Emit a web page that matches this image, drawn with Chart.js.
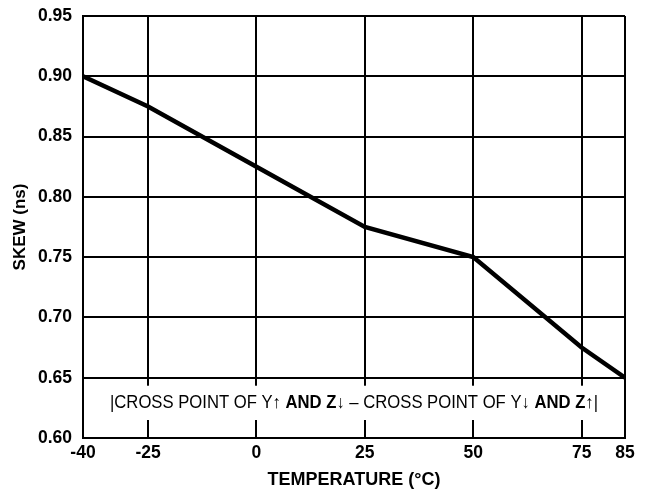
<!DOCTYPE html>
<html>
<head>
<meta charset="utf-8">
<script src="https://cdn.jsdelivr.net/npm/chart.js@4/dist/chart.umd.min.js"></script>
<style>
html,body{margin:0;padding:0;background:#fff;}
#wrap{width:652px;height:491px;}
</style>
</head>
<body>
<div id="wrap"><canvas id="c" width="652" height="491"></canvas></div>
<script>
const temperatures = [-40, -25, 0, 25, 50, 75, 85];
const skewValues = [0.90, 0.875, 0.825, 0.775, 0.75, 0.675, 0.65];
const xTickLabels = [-40, -25, 0, 25, 50, 75, 85];
const yTickLabels = [0.60, 0.65, 0.70, 0.75, 0.80, 0.85, 0.90, 0.95];
const annotationParts = [
  ["|CROSS POINT OF Y\u2191 ", false],
  ["AND Z\u2193", true],
  [" \u2013 CROSS POINT OF Y\u2193 ", false],
  ["AND Z\u2191", true],
  ["|", false]
];

const annotationPlugin = {
  id: 'annot',
  beforeDatasetsDraw(chart) {
    const {ctx, chartArea, scales} = chart;
    const top = scales.y.getPixelForValue(0.65) + 8;
    const bottom = scales.y.getPixelForValue(0.60) - 18;
    const cy = (top + bottom) / 2;
    ctx.save();
    ctx.fillStyle = '#fff';
    ctx.fillRect(chartArea.left + 1.5, top, chartArea.right - chartArea.left - 3, bottom - top);
    const fam = '"Liberation Sans Narrow", "Liberation Sans", Arial, sans-serif';
    const fontFor = b => (b ? 'bold ' : '') + '17.5px ' + fam;
    let total = 0;
    annotationParts.forEach(([t, b]) => { ctx.font = fontFor(b); total += ctx.measureText(t).width; });
    const targetW = 488;
    const sx = targetW / total;
    const cx = (chartArea.left + chartArea.right) / 2;
    ctx.translate(cx - targetW / 2, cy);
    ctx.scale(sx, 1);
    let x = 0;
    ctx.fillStyle = '#000';
    ctx.textBaseline = 'middle';
    ctx.textAlign = 'left';
    annotationParts.forEach(([t, b]) => {
      ctx.font = fontFor(b);
      ctx.fillText(t, x, 0);
      x += ctx.measureText(t).width;
    });
    ctx.restore();
  }
};

new Chart(document.getElementById('c'), {
  type: 'line',
  data: {
    datasets: [{
      data: temperatures.map((t, i) => ({x: t, y: skewValues[i]})),
      borderColor: '#000',
      borderWidth: 4.5,
      pointRadius: 0,
      tension: 0,
      fill: false
    }]
  },
  options: {
    responsive: false,
    animation: false,
    devicePixelRatio: 1,
    layout: {padding: {top: 16, right: 27, left: 0, bottom: 0}},
    plugins: {legend: {display: false}, tooltip: {enabled: false}},
    scales: {
      x: {
        type: 'linear',
        min: -40, max: 85,
        afterBuildTicks: s => { s.ticks = xTickLabels.map(v => ({value: v})); },
        afterFit: s => { s.height = 53; s.paddingLeft = 0; s.paddingRight = 0; },
        grid: {color: '#000', lineWidth: 2, drawTicks: false},
        border: {color: '#000', width: 2},
        ticks: {color: '#000', padding: 5, maxRotation: 0, autoSkip: false,
          font: {family: 'Liberation Sans, Arial, sans-serif', size: 17.5, weight: 'bold'},
          callback: v => String(v)},
        title: {display: true, text: 'TEMPERATURE (°C)', color: '#000',
          font: {family: 'Liberation Sans, Arial, sans-serif', size: 18, weight: 'bold'},
          padding: {top: 0, bottom: 0}}
      },
      y: {
        type: 'linear',
        min: 0.60, max: 0.95,
        afterBuildTicks: s => { s.ticks = yTickLabels.map(v => ({value: v})); },
        afterFit: s => { s.width = 83; s.paddingTop = 0; s.paddingBottom = 0; },
        grid: {color: '#000', lineWidth: 2, drawTicks: false},
        border: {color: '#000', width: 2},
        ticks: {color: '#000', padding: 11,
          font: {family: 'Liberation Sans, Arial, sans-serif', size: 17.5, weight: 'bold'},
          callback: v => Number(v).toFixed(2)},
        title: {display: true, text: 'SKEW (ns)', color: '#000',
          font: {family: 'Liberation Sans, Arial, sans-serif', size: 17, weight: 'bold'},
          padding: {top: 10, bottom: 0}}
      }
    }
  },
  plugins: [annotationPlugin]
});
</script>
</body>
</html>
